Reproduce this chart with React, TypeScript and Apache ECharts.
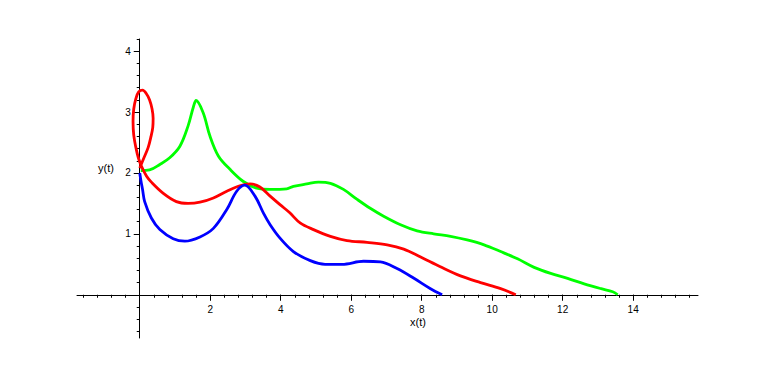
import React, { useEffect, useRef } from "react";
import * as echarts from "echarts";

const blueCurve: number[][] = [
  [0, 2.0], [0.04, 1.85], [0.08, 1.73], [0.14, 1.53], [0.33, 1.26], [0.57, 1.07],
  [0.95, 0.92], [1.28, 0.88], [1.71, 0.95], [2.09, 1.09], [2.47, 1.4], [2.75, 1.7],
  [2.98, 1.8], [3.27, 1.62], [3.51, 1.34], [3.7, 1.15], [3.98, 0.93], [4.36, 0.71],
  [4.84, 0.56], [5.26, 0.5], [5.74, 0.5], [6.35, 0.55], [6.83, 0.54], [7.3, 0.43],
  [7.78, 0.27], [8.25, 0.1], [8.58, 0.0],
];

const redCurve: number[][] = [
  [0.0, 2.08], [0.12, 2.25], [0.24, 2.42], [0.32, 2.6], [0.37, 2.75], [0.38, 2.9],
  [0.35, 3.05], [0.28, 3.2], [0.18, 3.31], [0.08, 3.36], [-0.03, 3.33], [-0.11, 3.22],
  [-0.17, 3.05], [-0.19, 2.85], [-0.17, 2.62], [-0.11, 2.42], [-0.04, 2.25], [0.05, 2.11],
  [0.19, 1.95], [0.33, 1.85], [0.66, 1.67], [1.04, 1.53],
  [1.37, 1.5], [1.71, 1.52], [2.09, 1.59], [2.47, 1.7], [2.84, 1.79], [3.13, 1.82],
  [3.41, 1.77], [3.7, 1.62], [3.98, 1.48], [4.25, 1.35], [4.55, 1.18], [4.93, 1.07],
  [5.41, 0.96], [5.88, 0.89], [6.45, 0.86], [7.02, 0.82], [7.49, 0.75], [7.97, 0.62],
  [8.53, 0.46], [9.1, 0.31], [9.67, 0.2], [10.24, 0.1], [10.67, 0.0],
];

const greenCurve: number[][] = [
  [0.03, 2.04], [0.28, 2.05], [0.57, 2.14], [0.85, 2.25], [1.14, 2.44], [1.37, 2.77],
  [1.52, 3.08], [1.6, 3.19], [1.8, 2.99], [1.99, 2.61], [2.23, 2.28], [2.56, 2.06],
  [2.94, 1.86], [3.32, 1.75], [3.7, 1.73], [4.17, 1.74], [4.36, 1.78], [4.74, 1.82],
  [5.07, 1.85], [5.41, 1.83], [5.78, 1.73], [6.16, 1.57], [6.54, 1.42], [6.92, 1.29],
  [7.4, 1.15], [7.87, 1.05], [8.34, 1.0], [8.82, 0.96], [9.29, 0.9], [9.77, 0.82],
  [10.24, 0.71], [10.72, 0.59], [11.19, 0.45], [11.66, 0.35], [12.14, 0.27],
  [12.61, 0.18], [13.09, 0.1], [13.42, 0.05], [13.56, 0.0],
];

const xTicks: number[] = [
  -1.6, -1.2, -0.8, -0.4, 0, 0.4, 0.8, 1.2, 1.6, 2, 2.4, 2.8, 3.2, 3.6, 4, 4.4, 4.8,
  5.2, 5.6, 6, 6.4, 6.8, 7.2, 7.6, 8, 8.4, 8.8, 9.2, 9.6, 10, 10.4, 10.8, 11.2, 11.6,
  12, 12.4, 12.8, 13.2, 13.6, 14, 14.4, 14.8, 15.2, 15.6,
];
const xLabels: number[] = [2, 4, 6, 8, 10, 12, 14];
const yTicks: number[] = [
  -0.6, -0.4, -0.2, 0, 0.2, 0.4, 0.6, 0.8, 1, 1.2, 1.4, 1.6, 1.8, 2, 2.2, 2.4, 2.6,
  2.8, 3, 3.2, 3.4, 3.6, 3.8, 4, 4.2,
];
const yLabels: number[] = [1, 2, 3, 4];

const xName = "x(t)";
const yName = "y(t)";

const FONT = "Liberation Sans, Arial, Helvetica, sans-serif";

export default function App() {
  const ref = useRef<HTMLDivElement>(null);
  useEffect(() => {
    if (!ref.current) return;
    const chart = echarts.init(ref.current, undefined, { renderer: "svg" });
    const W = 775;
    const H = 375;
    const g = { left: 77, right: 77, top: 39, bottom: 37 };
    const xMin = -1.78, xMax = 15.84, yMin = -0.71, yMax = 4.2;
    const gw = W - g.left - g.right;
    const gh = H - g.top - g.bottom;
    // pixel position of the zero lines in the main grid
    const zeroX = g.left + ((0 - xMin) / (xMax - xMin)) * gw;
    const zeroY = g.top + ((yMax - 0) / (yMax - yMin)) * gh;

    const lineSeries = (name: string, data: number[][], color: string) => ({
      name,
      type: "line",
      data,
      showSymbol: false,
      smooth: 0.35,
      lineStyle: { color, width: 2.8 },
      itemStyle: { color },
      z: 3,
    });
    const labelStyle = {
      color: "#000",
      fontSize: 10,
      fontFamily: FONT,
      formatter: (v: number) => String(v),
    };
    chart.setOption({
      animation: false,
      backgroundColor: "#ffffff",
      grid: [
        { left: g.left, right: g.right, top: g.top, bottom: g.bottom },
        { left: zeroX, right: g.right, top: g.top, bottom: H - zeroY },
      ],
      xAxis: [
        {
          type: "value",
          gridIndex: 0,
          min: xMin,
          max: xMax,
          splitLine: { show: false },
          axisLine: { onZero: true, lineStyle: { color: "#000", width: 1 } },
          axisTick: { show: true, length: 3, customValues: xTicks, lineStyle: { color: "#000" } },
          axisLabel: { show: false },
        },
        {
          type: "value",
          gridIndex: 1,
          min: 0,
          max: xMax,
          splitLine: { show: false },
          axisLine: { show: false },
          axisTick: { show: true, length: 6, customValues: xLabels, lineStyle: { color: "#000" } },
          axisLabel: { ...labelStyle, margin: 10, customValues: xLabels },
        },
      ],
      yAxis: [
        {
          type: "value",
          gridIndex: 0,
          min: yMin,
          max: yMax,
          splitLine: { show: false },
          axisLine: { onZero: true, lineStyle: { color: "#000", width: 1 } },
          axisTick: { show: true, length: 3, customValues: yTicks, lineStyle: { color: "#000" } },
          axisLabel: { show: false },
        },
        {
          type: "value",
          gridIndex: 1,
          min: 0,
          max: yMax,
          splitLine: { show: false },
          axisLine: { show: false },
          axisTick: { show: true, length: 6, customValues: yLabels, lineStyle: { color: "#000" } },
          axisLabel: { ...labelStyle, margin: 9, customValues: yLabels },
        },
      ],
      graphic: [
        {
          type: "text",
          left: 410,
          top: 316,
          style: { text: xName, fill: "#000", font: `11px ${FONT}` },
        },
        {
          type: "text",
          left: 98,
          top: 162,
          style: { text: yName, fill: "#000", font: `11px ${FONT}` },
        },
      ],
      series: [
        lineSeries("green", greenCurve, "#00ff00"),
        lineSeries("red", redCurve, "#ff0000"),
        lineSeries("blue", blueCurve, "#0000ff"),
      ],
    });
    return () => chart.dispose();
  }, []);
  return (
    <div
      ref={ref}
      style={{ position: "absolute", left: 0, top: 0, width: 775, height: 375, background: "#fff" }}
    />
  );
}
